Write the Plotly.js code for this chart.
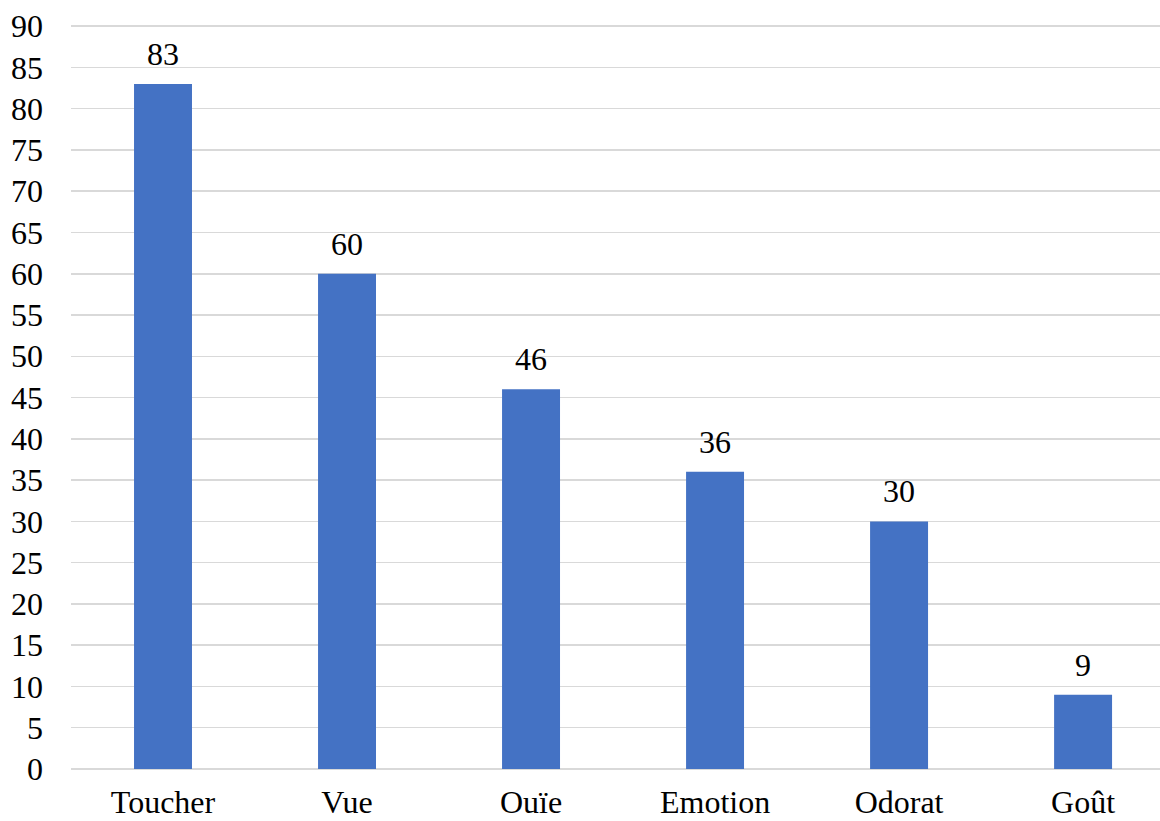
<!DOCTYPE html>
<html>
<head>
<meta charset="utf-8">
<script src="https://cdn.plot.ly/plotly-3.0.1.min.js"></script>
<style>html,body{margin:0;padding:0;background:#fff;}#chart{width:1160px;height:821px;}</style>
</head>
<body>
<div id="chart"></div>
<script>
const categories = ["Toucher", "Vue", "Ouïe", "Emotion", "Odorat", "Goût"];
const values = [83, 60, 46, 36, 30, 9];
const yTicks = [0,5,10,15,20,25,30,35,40,45,50,55,60,65,70,75,80,85,90];

const FONT = "Liberation Serif";

const trace = {
  type: "bar",
  x: categories,
  y: values,
  width: 0.315,
  marker: {color: "#4472C4"},
  hoverinfo: "x+y"
};

const annotations = categories.map((c, i) => ({
  x: c, y: values[i], xref: "x", yref: "y",
  text: String(values[i]),
  showarrow: false,
  yanchor: "bottom",
  yshift: 10,
  font: {family: FONT, size: 32, color: "#000"}
}));

const layout = {
  width: 1160, height: 821,
  margin: {l: 71, r: 0, t: 22, b: 52, pad: 0},
  font: {family: FONT},
  paper_bgcolor: "#fff",
  plot_bgcolor: "#fff",
  showlegend: false,
  bargap: 0.685,
  xaxis: {
    type: "category",
    range: [-0.5, 5.418],
    showgrid: false,
    zeroline: false,
    showline: false,
    ticks: "",
    ticklabelstandoff: 11,
    tickfont: {family: FONT, size: 32, color: "#000"}
  },
  yaxis: {
    range: [0, 90.5],
    tickvals: yTicks,
    ticktext: yTicks.map(String),
    showgrid: true,
    gridcolor: "#d9d9d9",
    gridwidth: 1.5,
    zeroline: true,
    zerolinecolor: "#d9d9d9",
    zerolinewidth: 1.5,
    showline: false,
    ticks: "",
    ticklabelstandoff: 27,
    tickfont: {family: FONT, size: 32, color: "#000"}
  },
  annotations: annotations
};

Plotly.newPlot("chart", [trace], layout, {displayModeBar: false, staticPlot: true});
</script>
</body>
</html>
